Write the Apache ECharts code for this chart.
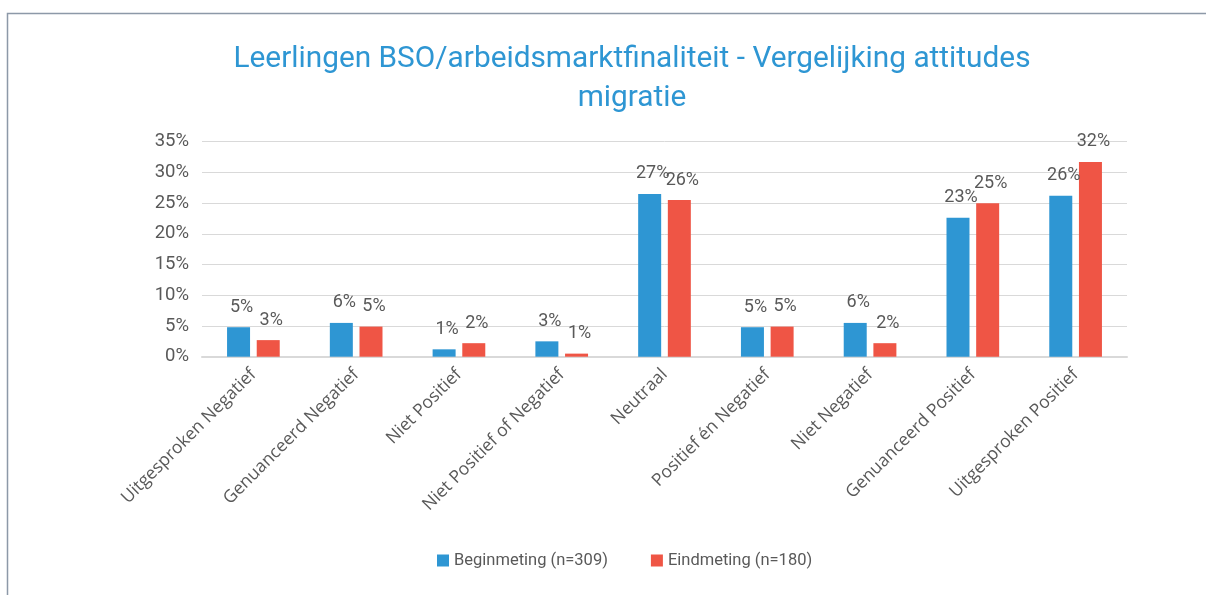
<!DOCTYPE html>
<html>
<head>
<meta charset="utf-8">
<script src="https://cdn.jsdelivr.net/npm/echarts@6/dist/echarts.min.js"></script>
<style>
  html, body { margin: 0; padding: 0; background: #fff; }
  #chart { width: 1206px; height: 595px; }
</style>
</head>
<body>
<div id="chart"></div>
<script>
// categorieen en waarden (in %)
var categories = ['Uitgesproken Negatief', 'Genuanceerd Negatief', 'Niet Positief', 'Niet Positief of Negatief',
    'Neutraal', 'Positief én Negatief', 'Niet Negatief', 'Genuanceerd Positief', 'Uitgesproken Positief'];
var beginValues = [4.8, 5.5, 1.2, 2.5, 26.5, 4.8, 5.5, 22.6, 26.2];
var eindValues = [2.7, 4.9, 2.2, 0.5, 25.5, 4.9, 2.2, 25.0, 31.7];
var seriesNames = ['Beginmeting (n=309)', 'Eindmeting (n=180)'];
var yTicks = [0, 5, 10, 15, 20, 25, 30, 35];

var gray = '#595959';
var labelFont = 'Roboto';

var Chart = {
    id: 'chart',
    chart: null,
    labelOpt: function () {
        return {
            show: true,
            position: 'top',
            distance: 11,
            offset: [3, 0],
            color: gray,
            fontFamily: labelFont,
            fontSize: 18,
            formatter: function (p) {
                return Math.round(p.value) + '%';
            }
        };
    }
};

Chart.option = function () {
    return {
        animation: false,
        color: ['#2e96d3', '#ef5545'],
        title: {
            text: 'Leerlingen BSO/arbeidsmarktfinaliteit - Vergelijking attitudes\nmigratie',
            left: 627,
            textAlign: 'center',
            top: 35,
            textStyle: {
                color: '#2e96d3',
                fontFamily: labelFont,
                fontWeight: 'normal',
                fontSize: 29.8,
                lineHeight: 39
            }
        },
        graphic: [{
            type: 'rect',
            shape: {x: 7.5, y: 13.5, width: 1400, height: 800},
            style: {fill: 'none', stroke: '#8d99a8', lineWidth: 1.5}
        }],
        legend: {
            bottom: 21,
            left: 432,
            itemWidth: 12,
            itemHeight: 12,
            itemGap: 43,
            icon: 'rect',
            textStyle: {color: gray, fontFamily: labelFont, fontSize: 16.5},
            data: seriesNames
        },
        grid: {left: 202, right: 79, top: 141.7, bottom: 238.3},
        xAxis: {
            type: 'category',
            data: categories,
            axisTick: {show: false},
            axisLine: {lineStyle: {color: '#d9d9d9', width: 2}},
            axisLabel: {
                rotate: 45,
                margin: 15,
                interval: 0,
                color: gray,
                fontFamily: 'Open Sans',
                fontSize: 17.5
            }
        },
        yAxis: {
            type: 'value',
            min: yTicks[0],
            max: yTicks[yTicks.length - 1],
            interval: 5,
            axisLine: {show: false},
            axisTick: {show: false},
            splitLine: {lineStyle: {color: '#d9d9d9', width: 1}},
            axisLabel: {
                margin: 13,
                color: gray,
                fontFamily: labelFont,
                fontSize: 18.5,
                formatter: '{value}%'
            }
        },
        series: [
            {
                name: seriesNames[0],
                type: 'bar',
                barWidth: 23,
                barGap: '29%',
                label: Chart.labelOpt(),
                data: beginValues
            },
            {
                name: seriesNames[1],
                type: 'bar',
                barWidth: 23,
                barGap: '29%',
                label: Chart.labelOpt(),
                data: eindValues
            }
        ]
    };
};

Chart.init = function () {
    this.chart = echarts.init(document.getElementById(this.id));
    this.chart.setOption(this.option());
};

Chart.init();
</script>
</body>
</html>
